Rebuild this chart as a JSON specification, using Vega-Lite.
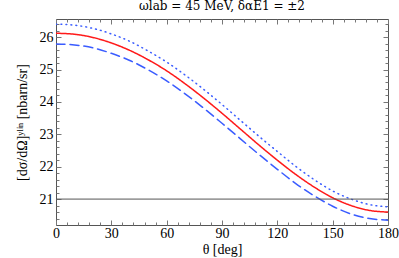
{
  "$schema": "https://vega.github.io/schema/vega-lite/v6.json",
  "width": 332,
  "height": 206,
  "autosize": "none",
  "padding": {"left": 56, "top": 19, "right": 11, "bottom": 33},
  "background": "white",
  "config": {
    "font": "Liberation Serif",
    "view": {"stroke": "#555555", "strokeWidth": 1},
    "axis": {"grid": false, "domain": false, "tickColor": "#777777", "tickWidth": 1, "labelFont": "Liberation Serif", "labelFontSize": 14, "labelColor": "black", "labelOverlap": false, "titleFont": "Liberation Serif", "titleFontSize": 14, "titleFontWeight": "normal", "titleColor": "black"}
  },
  "title": {"text": "ωlab = 45 MeV, δαE1 = ±2", "font": "DejaVu Serif", "fontSize": 12, "fontWeight": "normal", "offset": 4},
  "datasets": {
    "curves": [
      {"theta": 0, "value": 26.12, "series": "central"},
      {"theta": 10, "value": 26.09, "series": "central"},
      {"theta": 20, "value": 25.99, "series": "central"},
      {"theta": 30, "value": 25.82, "series": "central"},
      {"theta": 40, "value": 25.59, "series": "central"},
      {"theta": 50, "value": 25.30, "series": "central"},
      {"theta": 60, "value": 24.96, "series": "central"},
      {"theta": 70, "value": 24.56, "series": "central"},
      {"theta": 80, "value": 24.12, "series": "central"},
      {"theta": 90, "value": 23.65, "series": "central"},
      {"theta": 100, "value": 23.16, "series": "central"},
      {"theta": 110, "value": 22.67, "series": "central"},
      {"theta": 120, "value": 22.20, "series": "central"},
      {"theta": 130, "value": 21.76, "series": "central"},
      {"theta": 140, "value": 21.37, "series": "central"},
      {"theta": 150, "value": 21.04, "series": "central"},
      {"theta": 160, "value": 20.80, "series": "central"},
      {"theta": 170, "value": 20.65, "series": "central"},
      {"theta": 180, "value": 20.60, "series": "central"},
      {"theta": 0, "value": 26.40, "series": "plus"},
      {"theta": 10, "value": 26.37, "series": "plus"},
      {"theta": 20, "value": 26.27, "series": "plus"},
      {"theta": 30, "value": 26.10, "series": "plus"},
      {"theta": 40, "value": 25.87, "series": "plus"},
      {"theta": 50, "value": 25.57, "series": "plus"},
      {"theta": 60, "value": 25.23, "series": "plus"},
      {"theta": 70, "value": 24.83, "series": "plus"},
      {"theta": 80, "value": 24.39, "series": "plus"},
      {"theta": 90, "value": 23.92, "series": "plus"},
      {"theta": 100, "value": 23.43, "series": "plus"},
      {"theta": 110, "value": 22.94, "series": "plus"},
      {"theta": 120, "value": 22.47, "series": "plus"},
      {"theta": 130, "value": 22.01, "series": "plus"},
      {"theta": 140, "value": 21.60, "series": "plus"},
      {"theta": 150, "value": 21.25, "series": "plus"},
      {"theta": 160, "value": 21.00, "series": "plus"},
      {"theta": 170, "value": 20.83, "series": "plus"},
      {"theta": 180, "value": 20.76, "series": "plus"},
      {"theta": 0, "value": 25.79, "series": "minus"},
      {"theta": 10, "value": 25.76, "series": "minus"},
      {"theta": 20, "value": 25.67, "series": "minus"},
      {"theta": 30, "value": 25.50, "series": "minus"},
      {"theta": 40, "value": 25.28, "series": "minus"},
      {"theta": 50, "value": 24.99, "series": "minus"},
      {"theta": 60, "value": 24.65, "series": "minus"},
      {"theta": 70, "value": 24.25, "series": "minus"},
      {"theta": 80, "value": 23.81, "series": "minus"},
      {"theta": 90, "value": 23.34, "series": "minus"},
      {"theta": 100, "value": 22.86, "series": "minus"},
      {"theta": 110, "value": 22.38, "series": "minus"},
      {"theta": 120, "value": 21.92, "series": "minus"},
      {"theta": 130, "value": 21.48, "series": "minus"},
      {"theta": 140, "value": 21.10, "series": "minus"},
      {"theta": 150, "value": 20.78, "series": "minus"},
      {"theta": 160, "value": 20.54, "series": "minus"},
      {"theta": 170, "value": 20.40, "series": "minus"},
      {"theta": 180, "value": 20.35, "series": "minus"}
    ]
  },
  "resolve": {"axis": {"x": "independent", "y": "independent"}},
  "layer": [
    {
      "data": {"name": "curves"},
      "mark": {"type": "line", "interpolate": "monotone", "strokeWidth": 1.5, "strokeCap": "round", "clip": true},
      "encoding": {
        "x": {"field": "theta", "type": "quantitative",
          "scale": {"domain": [0, 180], "nice": false, "zero": false},
          "axis": {"orient": "bottom", "title": "θ [deg]", "titlePadding": 0, "labelOverlap": false,
            "values": [0,6,12,18,24,30,36,42,48,54,60,66,72,78,84,90,96,102,108,114,120,126,132,138,144,150,156,162,168,174,180],
            "labelExpr": "datum.value % 30 === 0 ? format(datum.value, 'd') : ''",
            "labelPadding": 6, "labelFlush": false,
            "tickSize": {"condition": {"test": "datum.value % 30 === 0", "value": -5}, "value": -3}}},
        "y": {"field": "value", "type": "quantitative",
          "scale": {"domain": [20.2, 26.56], "nice": false, "zero": false},
          "axis": {"orient": "left", "title": "[dσ/dΩ]ʸˡⁱⁿ [nbarn/sr]", "titlePadding": 10, "labelOverlap": false,
            "values": [20.4,20.6,20.8,21,21.2,21.4,21.6,21.8,22,22.2,22.4,22.6,22.8,23,23.2,23.4,23.6,23.8,24,24.2,24.4,24.6,24.8,25,25.2,25.4,25.6,25.8,26,26.2,26.4],
            "labelExpr": "abs(datum.value - round(datum.value)) < 0.001 ? format(datum.value, 'd') : ''",
            "labelPadding": 8,
            "tickSize": {"condition": {"test": "abs(datum.value - round(datum.value)) < 0.001", "value": -5}, "value": -3}}},
        "color": {"field": "series", "type": "nominal", "legend": null,
          "scale": {"domain": ["central", "plus", "minus"], "range": ["#ff1a1a", "#3a5cff", "#3a5cff"]}},
        "strokeDash": {"field": "series", "type": "nominal", "legend": null,
          "scale": {"domain": ["central", "plus", "minus"], "range": [[1, 0], [0.8, 4.2], [9, 5]]}}
      }
    },
    {
      "data": {"values": [{"y": 21, "x0": 0, "x1": 180}]},
      "mark": {"type": "rule", "color": "#555555", "strokeWidth": 1},
      "encoding": {
        "x": {"field": "x0", "type": "quantitative",
          "scale": {"domain": [0, 180], "nice": false, "zero": false},
          "axis": {"orient": "top", "title": null, "labels": false,
            "values": [0,6,12,18,24,30,36,42,48,54,60,66,72,78,84,90,96,102,108,114,120,126,132,138,144,150,156,162,168,174,180],
            "tickSize": {"condition": {"test": "datum.value % 30 === 0", "value": -5}, "value": -3}}},
        "x2": {"field": "x1"},
        "y": {"field": "y", "type": "quantitative",
          "scale": {"domain": [20.2, 26.56], "nice": false, "zero": false},
          "axis": {"orient": "right", "title": null, "labels": false,
            "values": [20.4,20.6,20.8,21,21.2,21.4,21.6,21.8,22,22.2,22.4,22.6,22.8,23,23.2,23.4,23.6,23.8,24,24.2,24.4,24.6,24.8,25,25.2,25.4,25.6,25.8,26,26.2,26.4],
            "tickSize": {"condition": {"test": "abs(datum.value - round(datum.value)) < 0.001", "value": -5}, "value": -3}}}
      }
    }
  ]
}
